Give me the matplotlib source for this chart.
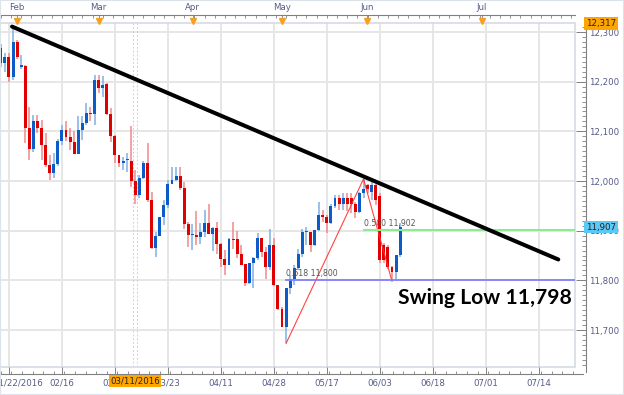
import matplotlib.pyplot as plt
import matplotlib.transforms as mtransforms
from matplotlib.patches import Rectangle
from matplotlib.ticker import FuncFormatter, MultipleLocator

# daily candles (bar index = position)
opens = [12268, 12238, 12250, 12209, 12280, 12230, 12232, 12106, 12064, 12120,
         12106, 12073, 12032, 12016, 12034, 12081, 12102, 12089, 12079, 12054,
         12102, 12117, 12137, 12134, 12204, 12187, 12196, 12135, 12091, 12053,
         12037, 12042, 12041, 12001, 11972, 12007, 12036, 11962, 11865, 11889,
         11927, 11952, 11995, 12002, 12010, 11985, 11913, 11891, 11892, 11887,
         11898, 11915, 11894, 11906, 11874, 11842, 11830, 11884, 11884, 11854,
         11832, 11795, 11834, 11845, 11885, 11857, 11827, 11871, 11790, 11743,
         11707, 11784, 11803, 11824, 11854, 11898, 11898, 11871, 11901, 11931,
         11927, 11915, 11949, 11965, 11953, 11965, 11965, 11953, 11938, 11975,
         11992, 11978, 11992, 11970, 11871, 11868, 11827, 11817, 11851]
highs = [12275, 12258, 12258, 12310, 12283, 12254, 12234, 12150, 12133, 12133,
         12123, 12096, 12052, 12057, 12085, 12113, 12120, 12106, 12100, 12130,
         12130, 12157, 12150, 12214, 12214, 12211, 12198, 12147, 12093, 12053,
         12049, 12056, 12111, 12022, 12012, 12041, 12076, 11978, 11898, 11927,
         11962, 12002, 12029, 12029, 12029, 11999, 11918, 11913, 11940, 11916,
         11941, 11954, 11908, 11918, 11876, 11861, 11886, 11918, 11899, 11871,
         11833, 11834, 11846, 11896, 11886, 11867, 11904, 11886, 11791, 11746,
         11784, 11810, 11830, 11864, 11904, 11908, 11898, 11902, 11958, 11941,
         11931, 11954, 11972, 11972, 11975, 11975, 11975, 11958, 11978, 12004,
         11995, 11999, 11995, 11976, 11875, 11871, 11829, 11852, 11915]
lows = [12230, 12219, 12200, 12204, 12246, 12226, 12076, 12042, 12059, 12096,
        12042, 12029, 12003, 12006, 12030, 12073, 12080, 12063, 12054, 12054,
        12083, 12113, 12120, 12113, 12177, 12170, 12133, 12079, 12036, 12029,
        12022, 12019, 11988, 11954, 11965, 12005, 11958, 11864, 11847, 11889,
        11911, 11945, 11993, 12000, 11982, 11904, 11867, 11862, 11871, 11874,
        11888, 11894, 11859, 11854, 11826, 11810, 11830, 11864, 11844, 11830,
        11788, 11792, 11785, 11840, 11847, 11803, 11820, 11789, 11741, 11706,
        11673, 11773, 11790, 11820, 11847, 11871, 11857, 11870, 11900, 11918,
        11896, 11913, 11945, 11941, 11941, 11940, 11935, 11925, 11935, 11965,
        11975, 11962, 11952, 11835, 11835, 11822, 11798, 11803, 11848]
closes = [12238, 12250, 12209, 12280, 12250, 12233, 12106, 12064, 12120, 12106,
          12073, 12032, 12016, 12034, 12081, 12103, 12089, 12079, 12054, 12102,
          12117, 12137, 12134, 12204, 12187, 12194, 12135, 12091, 12053, 12036,
          12040, 12044, 12001, 11972, 12007, 12036, 11962, 11865, 11889, 11927,
          11952, 11995, 12002, 12010, 11985, 11913, 11891, 11893, 11887, 11898,
          11915, 11894, 11906, 11874, 11842, 11830, 11884, 11882, 11854, 11830,
          11795, 11834, 11845, 11885, 11857, 11827, 11871, 11790, 11743, 11707,
          11784, 11803, 11824, 11854, 11898, 11900, 11871, 11901, 11931, 11927,
          11915, 11949, 11965, 11953, 11965, 11953, 11953, 11938, 11975, 11984,
          11984, 11992, 11962, 11840, 11840, 11827, 11817, 11851, 11907]

date_ticks = [2, 15, 28, 41, 54, 67, 80, 93, 106, 119, 132]
date_labels = ['01/22/2016', '02/16', '03/04', '03/23', '04/11', '04/28',
               '05/17', '06/03', '06/18', '07/01', '07/14']
month_ticks = [4.0, 24.0, 47.1, 69.0, 89.9, 118.0]
month_labels = ['Feb', 'Mar', 'Apr', 'May', 'Jun', 'Jul']

trend_x = [2.75, 136.8]
trend_y = [12311, 11842]
fib_x = [70, 89, 96]
fib_y = [11673, 12004, 11798]
fib500 = 11902
fib618 = 11800
last_close = 11907
period_high = 12317

txt = '#555b88'
fig = plt.figure(figsize=(6.24, 3.95), dpi=100)
ax = fig.add_axes([0, 1 - 367 / 395, 575 / 624, 344 / 395])
ax.set_xlim(-0.2, 140.9)
ax.set_ylim(11625.5, 12318.2)

# grid
for y in range(11700, 12400, 100):
    ax.axhline(y, color='#e6e6e6', lw=1.4, zorder=0)
for x in date_ticks:
    ax.axvline(x, color='#e6e6e6', lw=1.4, zorder=0)
for x in [32.5, 33.5]:
    ax.axvline(x, color='#d0d0d0', lw=0.7, ls=(0, (2, 2)), zorder=0)

# candles
n = len(opens)
idx = list(range(n))
up = [c >= o for o, c in zip(opens, closes)]
wick_col = ['#7fb0e6' if u else '#f08a8a' for u in up]
body_col = ['#0b5cc8' if u else '#e00000' for u in up]
ax.vlines(idx, lows, highs, colors=wick_col, lw=1.1, zorder=2)
bottoms = [min(o, c) for o, c in zip(opens, closes)]
heights = [max(abs(c - o), 1.5) for o, c in zip(opens, closes)]
ax.bar(idx, heights, bottom=bottoms, width=0.72, color=body_col, lw=0, zorder=3)

# fibonacci retracement
ax.plot(fib_x, fib_y, color='#ff3030', lw=0.8, alpha=0.9, zorder=4)
ax.plot([fib_x[1], 141], [fib500, fib500], color='#90e890', lw=1.5, zorder=4)
ax.plot([fib_x[0], 141], [fib618, fib618], color='#8080ff', lw=1.3, zorder=4)
ax.text(fib_x[1], fib500 + 4, '0.500 11,902', fontsize=5.6, color='#555555', va='bottom', zorder=5)
ax.text(fib_x[0], fib618 + 4, '0.618 11,800', fontsize=5.6, color='#555555', va='bottom', zorder=5)

# trend line
ax.plot(trend_x, trend_y, color='black', lw=2.9, solid_capstyle='round', zorder=6)

ax.text(97.5, 11764, 'Swing Low 11,798', fontsize=15.2, fontweight='bold', family='Lato',
        color='black', va='center', ha='left', zorder=7)

# frame
ax.add_patch(Rectangle((0, 0), 1, 1, transform=ax.transAxes, fill=False,
                       ec='#d5dbe3', lw=1.2, clip_on=False, zorder=1))

# axes
for s in ['left', 'top']:
    ax.spines[s].set_visible(False)
ax.spines['bottom'].set_position(('outward', 5))
ax.spines['right'].set_position(('outward', 8))
ax.spines['bottom'].set_bounds(-0.2, 142.9)
ax.spines['right'].set_bounds(11615.4, 12330.2)
for s in ['bottom', 'right']:
    ax.spines[s].set_color('#808080')
    ax.spines[s].set_linewidth(0.8)

ax.yaxis.tick_right()
ax.yaxis.set_major_locator(MultipleLocator(100))
ax.yaxis.set_minor_locator(MultipleLocator(10))
ax.yaxis.set_major_formatter(FuncFormatter(lambda v, p: f'{v:,.0f}'))
ax.tick_params(axis='y', which='major', direction='in', length=7, width=0.7,
               color='#808080', labelsize=6.2, labelcolor=txt, pad=2)
ax.tick_params(axis='y', which='minor', direction='in', length=3, width=0.6, color='#808080')

ax.set_xticks(date_ticks)
ax.set_xticklabels(date_labels)
ax.xaxis.set_minor_locator(MultipleLocator(13 / 5))
ax.tick_params(axis='x', which='major', direction='in', length=5, width=0.7,
               color='#808080', labelsize=6.2, labelcolor=txt, pad=3)
ax.tick_params(axis='x', which='minor', direction='in', length=2.5, width=0.6, color='#808080')
first = ax.get_xticklabels()[0]
first.set_transform(first.get_transform() +
                    mtransforms.ScaledTranslation(9 / 100, 0, fig.dpi_scale_trans))

top = ax.secondary_xaxis('top')
top.spines['top'].set_position(('outward', 6))
top.spines['top'].set_color('#808080')
top.spines['top'].set_linewidth(0.8)
top.set_xticks(month_ticks)
top.set_xticklabels(month_labels)
top.xaxis.set_minor_locator(MultipleLocator(2.5))
top.tick_params(axis='x', which='major', direction='in', length=3, width=0.6,
                color='#808080', labelsize=6.2, labelcolor=txt, pad=2)
top.tick_params(axis='x', which='minor', direction='in', length=2.5, width=0.6, color='#808080')

tri_tr = mtransforms.blended_transform_factory(ax.transData, ax.transAxes)
ax.plot(month_ticks, [1.006] * len(month_ticks), 'v', color='#f5a020', ms=5,
        transform=tri_tr, clip_on=False, zorder=8)

# crosshair date and price tags
ax.text(33, -0.04, '03/11/2016', transform=tri_tr, fontsize=6.2, color='#222222',
        ha='center', va='center', clip_on=False, zorder=9,
        bbox=dict(boxstyle='square,pad=0.15', fc='#ffa500', ec='none'))
ytr = ax.get_yaxis_transform()
ax.text(1.019, period_high, '12,317', transform=ytr, fontsize=6.2, color='#222222',
        ha='left', va='center', clip_on=False, zorder=9,
        bbox=dict(boxstyle='square,pad=0.2', fc='#ffa500', ec='none'))
ax.text(1.019, last_close, '11,907', transform=ytr, fontsize=6.2, color='#222222',
        ha='left', va='center', clip_on=False, zorder=9,
        bbox=dict(boxstyle='square,pad=0.2', fc='#5cc8f5', ec='none'))

fig.patches.append(Rectangle((0, 0), 1, 1, transform=fig.transFigure, fill=False,
                             ec='#dde3ea', lw=1.5))
fig.savefig('out.png', dpi=100)
